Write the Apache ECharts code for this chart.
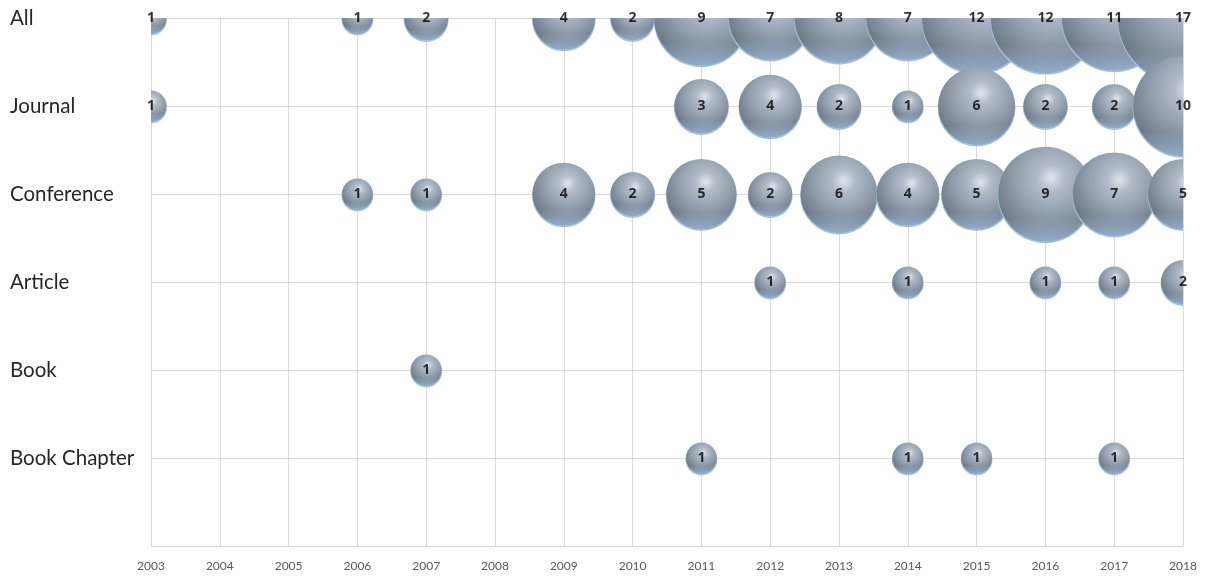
<!DOCTYPE html>
<html>
<head>
<meta charset="utf-8">
<script src="https://cdn.jsdelivr.net/npm/echarts@6/dist/echarts.min.js"></script>
<style>
html,body{margin:0;padding:0;background:#fff;}
#chart{width:1205px;height:576px;}
</style>
</head>
<body>
<div id="chart"></div>
<script>
// ---- data ----
const years = [2003,2004,2005,2006,2007,2008,2009,2010,2011,2012,2013,2014,2015,2016,2017,2018];
const rowNames = ['All','Journal','Conference','Article','Book','Book Chapter'];
const allCounts        = [1,0,0,1,2,0,4,2,9,7,8,7,12,12,11,17];
const journalCounts    = [1,0,0,0,0,0,0,0,3,4,2,1,6,2,2,10];
const conferenceCounts = [0,0,0,1,1,0,4,2,5,2,6,4,5,9,7,5];
const articleCounts    = [0,0,0,0,0,0,0,0,0,1,0,1,0,1,1,2];
const bookCounts       = [0,0,0,0,1,0,0,0,0,0,0,0,0,0,0,0];
const bookChapterCounts= [0,0,0,0,0,0,0,0,1,0,0,1,1,0,1,0];
const rowSeries = [allCounts, journalCounts, conferenceCounts, articleCounts, bookCounts, bookChapterCounts];

// y value for each row: All at top (6) down to Book Chapter (1)
const points = [];
rowSeries.forEach((arr, ri) => {
  const yv = rowNames.length - ri;
  arr.forEach((c, i) => { if (c > 0) points.push([years[i], yv, c]); });
});

const chart = echarts.init(document.getElementById('chart'));
const SIZE_K = 15.9; // radius per sqrt(count)

chart.setOption({
  animation: false,
  backgroundColor: '#ffffff',
  grid: { left: 151, right: 22, top: 18, bottom: 30, containLabel: false },
  xAxis: {
    type: 'value', min: 2003, max: 2018, interval: 1,
    axisLine: { show: true, lineStyle: { color: '#d9d9d9', width: 1 } },
    axisTick: { show: false },
    splitLine: { show: true, lineStyle: { color: '#d9d9d9', width: 1 } },
    axisLabel: { color: '#595959', fontSize: 12, fontFamily: 'Lato', margin: 14,
      formatter: v => String(v), showMinLabel: true, showMaxLabel: true }
  },
  yAxis: {
    type: 'value', min: 0, max: 6, interval: 1,
    axisLine: { show: true, lineStyle: { color: '#d9d9d9', width: 1 } },
    axisTick: { show: false },
    splitLine: { show: true, lineStyle: { color: '#d9d9d9', width: 1 } },
    axisLabel: { color: '#262626', fontSize: 20.5, fontFamily: 'Lato', align: 'left', margin: 141,
      showMinLabel: true, showMaxLabel: true, padding: [5, 0, 0, 0],
      formatter: v => (v >= 1 && v <= 6 ? rowNames[6 - v] : '') }
  },
  series: [
    {
      type: 'custom',
      clip: true,
      data: points,
      z: 2,
      renderItem: function (params, api) {
        const c = api.coord([api.value(0), api.value(1)]);
        const r = SIZE_K * Math.sqrt(api.value(2));
        return {
          type: 'group',
          children: [
            { type: 'circle', shape: { cx: c[0], cy: c[1] + 1.5, r: r },
              style: { fill: '#a3c0df' } },
            { type: 'circle', shape: { cx: c[0], cy: c[1], r: r - 0.5 },
              style: { fill: { type: 'radial', x: 0.56, y: 0.33, r: 0.72,
                colorStops: [
                  { offset: 0, color: '#dfe6ed' },
                  { offset: 0.2, color: '#b2bcc8' },
                  { offset: 0.55, color: '#909cab' },
                  { offset: 0.85, color: '#727d8a' },
                  { offset: 1, color: '#646f7c' }
                ] } } },
            { type: 'circle', shape: { cx: c[0], cy: c[1], r: r - 0.5 },
              style: { fill: { type: 'linear', x: 0, y: 0, x2: 0, y2: 1,
                colorStops: [
                  { offset: 0, color: 'rgba(165,195,230,0)' },
                  { offset: 0.75, color: 'rgba(165,195,230,0)' },
                  { offset: 1, color: 'rgba(165,195,230,0.7)' }
                ] } } }
          ]
        };
      }
    },
    {
      type: 'scatter',
      clip: false,
      z: 5,
      data: points,
      symbolSize: 2,
      itemStyle: { color: 'rgba(0,0,0,0)' },
      label: {
        show: true, position: 'inside',
        formatter: p => String(p.value[2]),
        color: '#000000', fontWeight: 'bold', fontSize: 14, fontFamily: 'Open Sans',
        textBorderWidth: 0
      },
      labelLayout: { hideOverlap: false },
      silent: true
    }
  ]
});
</script>
</body>
</html>
